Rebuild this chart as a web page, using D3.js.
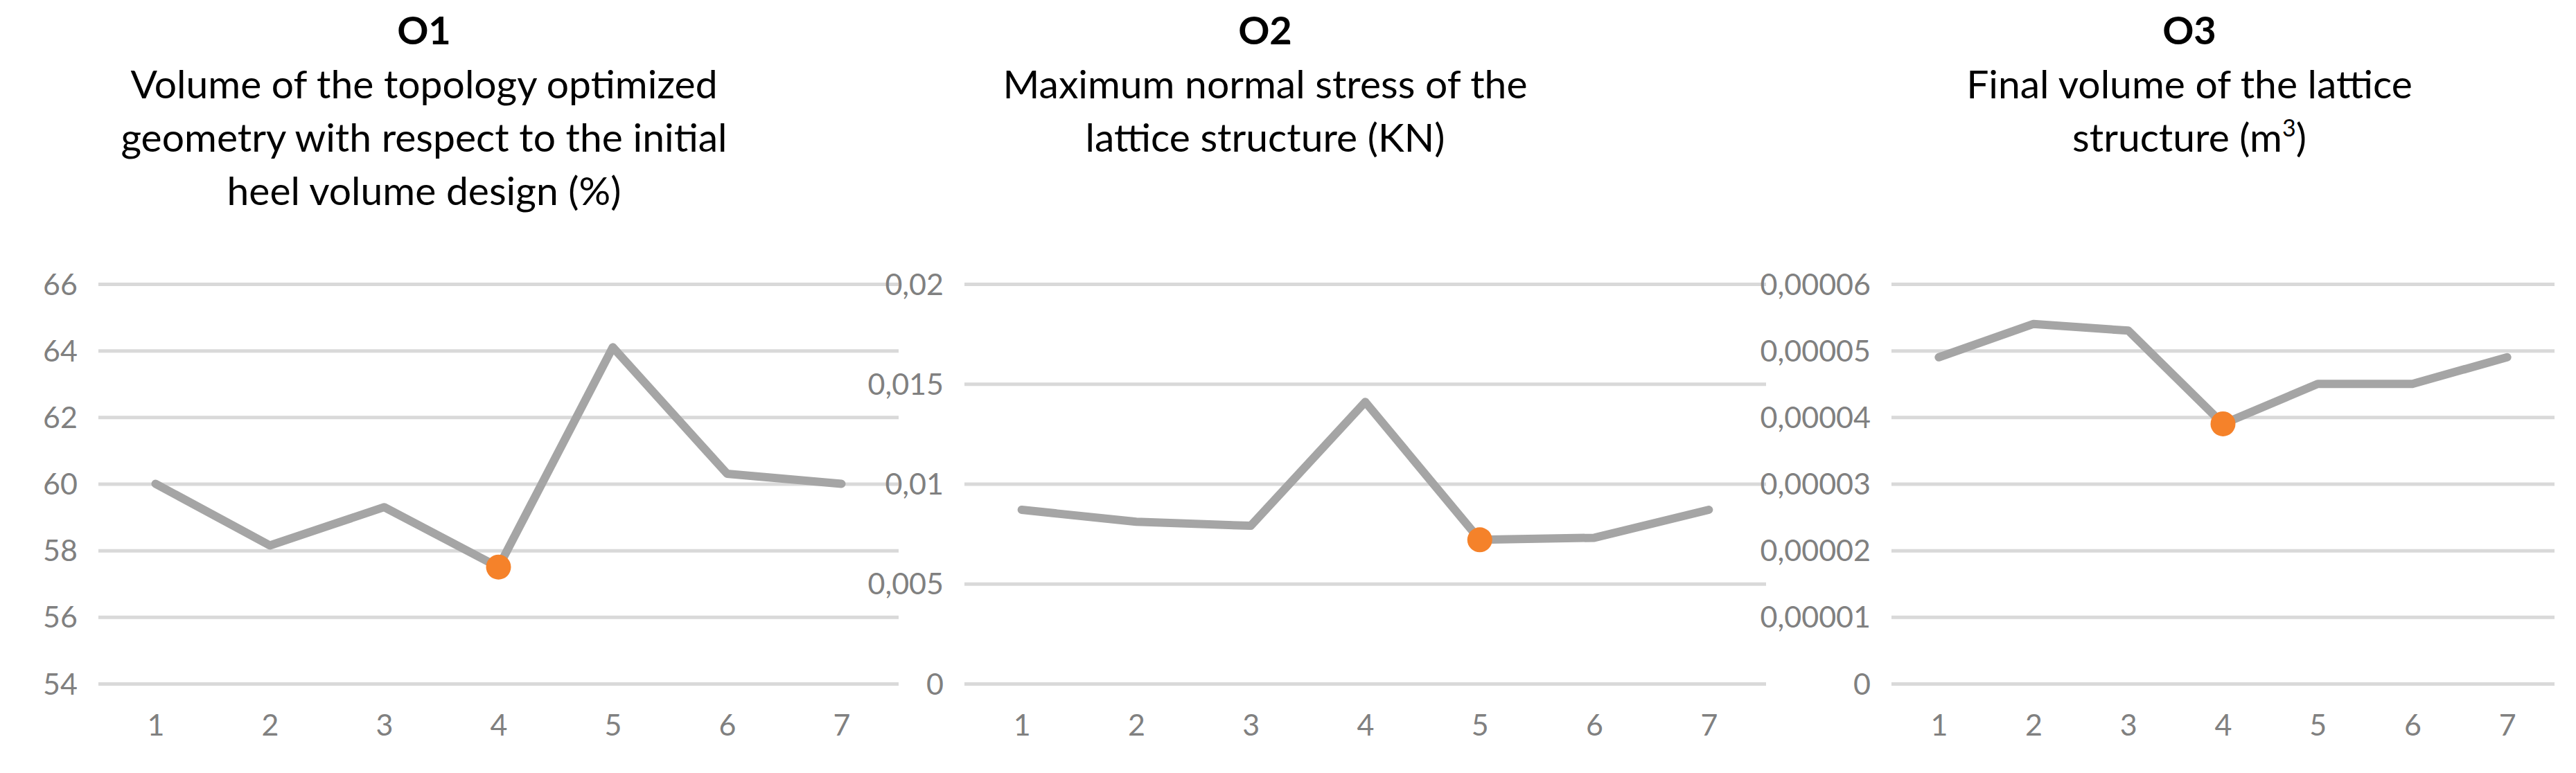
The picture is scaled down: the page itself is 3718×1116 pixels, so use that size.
<!DOCTYPE html>
<html><head><meta charset="utf-8">
<script src="https://cdn.jsdelivr.net/npm/d3@7"></script>
<style>body{margin:0;background:#fff}svg{display:block}</style>
</head><body>
<script>
const categories = [1, 2, 3, 4, 5, 6, 7];
const o1Values = [60, 58.15, 59.3, 57.5, 64.1, 60.3, 60.0];
const o2Values = [0.0087, 0.0081, 0.0079, 0.0141, 0.0072, 0.0073, 0.0087];
const o3Values = [0.000049, 0.000054, 0.000053, 0.000039, 0.000045, 0.000045, 0.000049];
const o1Ticks = [54, 56, 58, 60, 62, 64, 66];
const o2Ticks = [0, 0.005, 0.01, 0.015, 0.02];
const o3Ticks = [0, 0.00001, 0.00002, 0.00003, 0.00004, 0.00005, 0.00006];
const o1Title = ["O1", "Volume of the topology optimized", "geometry with respect to the initial", "heel volume design (%)"];
const o2Title = ["O2", "Maximum normal stress of the", "lattice structure (KN)"];
const o3Title = ["O3", "Final volume of the lattice", "structure (m³)"];

const W = 3718, H = 1116;
const FONT = "Lato, 'Open Sans', sans-serif";
const svg = d3.select("body").append("svg").attr("width", W).attr("height", H);

const fmt = (d, dec) => d === 0 ? "0" : d.toFixed(dec).replace(".", ",");

const panels = [
  {title: o1Title, vals: o1Values, ticks: o1Ticks, dom: [54, 66], x0: 142, x1: 1297, cx: 612, hi: 3, dec: 0},
  {title: o2Title, vals: o2Values, ticks: o2Ticks, dom: [0, 0.02], x0: 1392, x1: 2549, cx: 1826, hi: 4, dec: -1},
  {title: o3Title, vals: o3Values, ticks: o3Ticks, dom: [0, 0.00006], x0: 2730, x1: 3687, cx: 3160, hi: 3, dec: 5},
];

for (const p of panels) {
  const g = svg.append("g");
  const x = d3.scalePoint().domain(categories).range([p.x0, p.x1]).padding(0.5);
  const y = d3.scaleLinear().domain(p.dom).range([987, 410]);

  // title
  p.title.forEach((t, i) => {
    const tx = g.append("text").attr("x", p.cx).attr("y", i === 0 ? 64 : 142 + (i - 1) * 77)
      .attr("text-anchor", "middle").attr("font-family", FONT)
      .attr("font-size", i === 0 ? 56 : 57).attr("font-weight", i === 0 ? "bold" : "normal").attr("fill", "#000");
    if (t.includes("³")) {
      tx.append("tspan").text(t.replace("³)", ""));
      tx.append("tspan").attr("font-size", 34).attr("dy", -22).text("3");
      tx.append("tspan").attr("dy", 22).text(")");
    } else tx.text(t);
  });

  // grid + y labels
  const ya = d3.axisLeft(y).tickValues(p.ticks).tickSize(-(p.x1 - p.x0))
    .tickFormat(d => p.dec < 0 ? (d === 0 ? "0" : String(d).replace(".", ",")) : fmt(d, p.dec));
  const ag = g.append("g").attr("transform", `translate(${p.x0},0)`).call(ya);
  ag.select(".domain").remove();
  ag.selectAll("line").attr("stroke", "#d9d9d9").attr("stroke-width", 5);
  ag.selectAll("text").attr("x", -30).attr("dy", "0.35em").attr("fill", "#808080")
    .attr("font-family", FONT).attr("font-size", 43);

  // x labels
  const xa = d3.axisBottom(x).tickSize(0);
  const xg = g.append("g").attr("transform", "translate(0,1028)").call(xa);
  xg.select(".domain").remove();
  xg.selectAll("text").attr("fill", "#808080").attr("font-family", FONT).attr("font-size", 43);

  const line = d3.line().x((d, i) => x(categories[i])).y(d => y(d));
  g.append("path").datum(p.vals).attr("d", line).attr("fill", "none")
    .attr("stroke", "#a5a5a5").attr("stroke-width", 12).attr("stroke-linejoin", "round").attr("stroke-linecap", "round");
  g.append("circle").attr("cx", x(categories[p.hi])).attr("cy", y(p.vals[p.hi])).attr("r", 18).attr("fill", "#f5822a");
}
</script>
</body></html>
